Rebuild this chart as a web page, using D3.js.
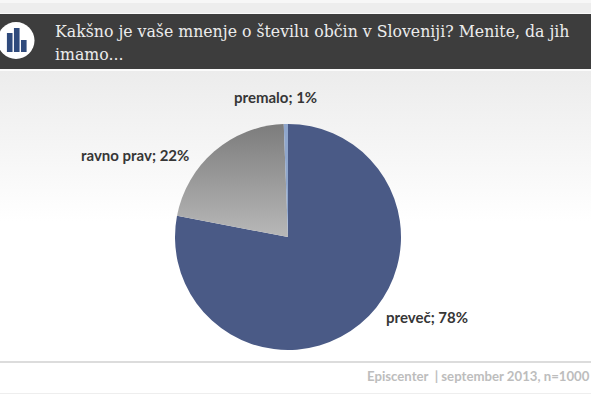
<!DOCTYPE html>
<html>
<head>
<meta charset="utf-8">
<script src="https://cdnjs.cloudflare.com/ajax/libs/d3/7.8.5/d3.min.js"></script>
<style>
html, body { margin: 0; padding: 0; background: #fff; overflow: hidden; }
svg { display: block; }
.label { font-family: Lato, sans-serif; font-weight: 700; font-size: 15px; fill: #363636; }
.title { font-family: "DejaVu Serif Condensed", "DejaVu Serif", serif; font-size: 17.5px; fill: #ececec; }
.foot { font-family: Lato, sans-serif; font-weight: 700; font-size: 13.2px; fill: #bdbdbd; }
</style>
</head>
<body>
<script>
const WIDTH = 591, HEIGHT = 394;

// values, labels as printed on it
var categories = ["preveč", "ravno prav", "premalo"];
var sliceValues = [78, 21.4, 0.6];
var printedValues = ["78%", "22%", "1%"];
var titleLines = ["Kakšno je vaše mnenje o številu občin v Sloveniji? Menite, da jih", "imamo..."];
var footerText = "Episcenter  | september 2013, n=1000";
var iconBars = [{x:0,h:19},{x:1,h:24},{x:2,h:12}];

var labelPos = {"preveč":[386,323], "ravno prav":[81,161], "premalo":[234,103]};

var translate = function(x,y){
	return `translate(${x},${y})`;
};

var svg = d3.select('body').append('svg').attr("width",WIDTH).attr("height",HEIGHT);
var defs = svg.append('defs');

var addGradient = function(id,stops){
	var g = defs.append('linearGradient').attr('id',id)
		.attr('x1',0).attr('x2',0).attr('y1',0).attr('y2',1);
	stops.forEach(function(s){
		g.append('stop').attr('offset',s[0]).attr('stop-color',s[1]);
	});
};

addGradient('bg',[[0,'#ececec'],[0.55,'#f6f6f6'],[1,'#ffffff']]);
addGradient('grey',[[0,'#7c7c7c'],[1,'#b8b8b8']]);

// page background
svg.append('rect').attr('width',WIDTH).attr('height',HEIGHT).attr('fill','#fff');
svg.append('rect').attr('y',0).attr('width',WIDTH).attr('height',3).attr('fill','#f7f7f7');
svg.append('rect').attr('y',3).attr('width',WIDTH).attr('height',10).attr('fill','#ededed');
svg.append('rect').attr('y',71).attr('width',WIDTH).attr('height',150).attr('fill','url(#bg)');

// header band
svg.append('rect').attr('y',13).attr('width',WIDTH).attr('height',1).attr('fill','#fafafa');
svg.append('rect').attr('y',14).attr('width',WIDTH).attr('height',55).attr('fill','#3d3d3d');
svg.append('rect').attr('y',69).attr('width',WIDTH).attr('height',2).attr('fill','#fbfbfb');

// icon
var icon = svg.append('g').attr('transform',translate(16,40.5));
icon.append('circle').attr('r',18.5).attr('fill','#fff');
var iconX = d3.scaleBand().domain(d3.range(iconBars.length)).range([-10.5,12]).padding(0.2);
var iconY = d3.scaleLinear().domain([0,24]).range([11.5,-12.5]);
icon.selectAll('rect').data(iconBars).enter().append('rect')
	.attr('x',function(d){return iconX(d.x)})
	.attr('width',iconX.bandwidth())
	.attr('y',function(d){return iconY(d.h)})
	.attr('height',function(d){return iconY(0)-iconY(d.h)})
	.attr('fill','#2f4a7c');

// title
svg.selectAll('.title').data(titleLines).enter().append('text')
	.attr('class','title')
	.attr('x',55)
	.attr('y',function(d,i){return 37+i*23})
	.text(function(d){return d});

// pie
var pie = d3.pie().sort(null);
var arc = d3.arc().innerRadius(0).outerRadius(113);
var colors = d3.scaleOrdinal().domain(categories).range(['#4a5a86','url(#grey)','#8fa6cc']);

var chart = svg.append('g').attr('transform',translate(288,237));
chart.selectAll('path').data(pie(sliceValues)).enter().append('path')
	.attr('d',arc)
	.attr('fill',function(d,i){return colors(categories[i])});

// labels
categories.forEach(function(c,i){
	svg.append('text')
		.attr('class','label')
		.attr('x',labelPos[c][0])
		.attr('y',labelPos[c][1])
		.text(c+"; "+printedValues[i]);
});

// footer
svg.append('rect').attr('y',361).attr('width',WIDTH).attr('height',2).attr('fill','#dcdcdc');
svg.append('rect').attr('y',393).attr('width',WIDTH).attr('height',1).attr('fill','#eeeeee');
svg.append('text').attr('class','foot')
	.attr('x',367).attr('y',381)
	.style('white-space','pre')
	.text(footerText);
</script>
</body>
</html>
